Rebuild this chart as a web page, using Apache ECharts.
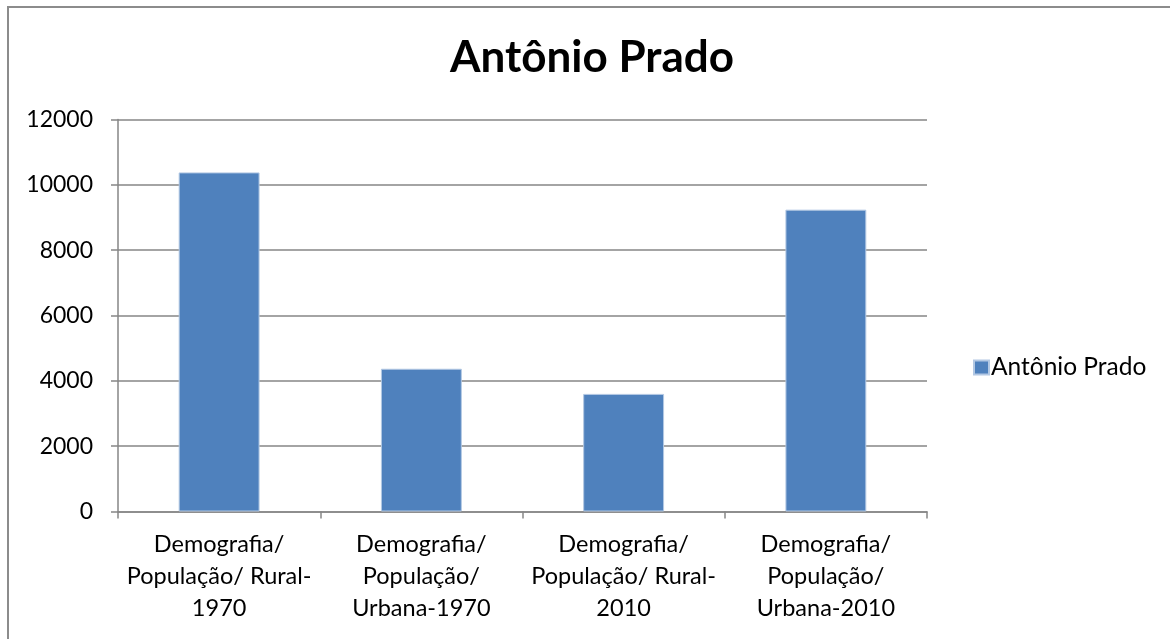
<!DOCTYPE html>
<html>
<head>
<meta charset="utf-8">
<script src="https://cdn.jsdelivr.net/npm/echarts@6/dist/echarts.min.js"></script>
<style>
  html, body { margin: 0; padding: 0; background: #fff; }
  #main { width: 1170px; height: 639px; }
</style>
</head>
<body>
<div id="main"></div>
<script>
// dados
var categorias = [
  'Demografia/\nPopulação/ Rural-\n1970',
  'Demografia/\nPopulação/\nUrbana-1970',
  'Demografia/\nPopulação/ Rural-\n2010',
  'Demografia/\nPopulação/\nUrbana-2010'
];
var valores = [10380, 4370, 3600, 9240];
var nomeSerie = 'Antônio Prado';
var tituloTexto = 'Antônio Prado';

var fonte = 'Lato, "Noto Sans", sans-serif';
var cinza = '#868686';

var chart = echarts.init(document.getElementById('main'));
var option = {
  backgroundColor: '#fff',
  animation: false,
  textStyle: { fontFamily: fonte },
  graphic: [{
    type: 'rect',
    shape: { x: 8, y: 7, width: 1200, height: 700 },
    style: { fill: 'none', stroke: '#8c8c8c', lineWidth: 2 },
    silent: true
  }],
  title: {
    text: tituloTexto,
    left: 587,
    textAlign: 'center',
    top: 31,
    textStyle: { fontFamily: fonte, fontSize: 44, fontWeight: 'bold', color: '#000' }
  },
  legend: {
    data: [nomeSerie],
    orient: 'vertical',
    left: 968,
    top: 350,
    itemWidth: 15,
    itemHeight: 14,
    itemGap: 6,
    icon: 'rect',
    textStyle: { fontFamily: fonte, fontSize: 24.5, color: '#000', padding: [0, 0, 0, -3] }
  },
  grid: { left: 118, right: 243, top: 119.5, bottom: 127.5, containLabel: false },
  xAxis: {
    type: 'category',
    data: categorias,
    axisLine: { lineStyle: { color: cinza, width: 1.5 } },
    axisTick: { show: true, alignWithLabel: false, length: 7, lineStyle: { color: cinza, width: 1.5 } },
    axisLabel: { fontFamily: fonte, color: '#000', fontSize: 23.5, lineHeight: 32, margin: 17, interval: 0, align: 'center' }
  },
  yAxis: {
    type: 'value',
    min: 0,
    max: 12000,
    interval: 2000,
    axisLine: { show: true, lineStyle: { color: cinza, width: 1.5 } },
    axisTick: { show: true, length: 7, lineStyle: { color: cinza, width: 1.5 } },
    axisLabel: { fontFamily: fonte, color: '#000', fontSize: 23, margin: 25, formatter: function (v) { return String(v); } },
    splitLine: { show: true, lineStyle: { color: cinza, width: 1.5 } }
  },
  series: [{
    name: nomeSerie,
    type: 'bar',
    data: valores,
    barWidth: '40%',
    itemStyle: { color: '#4F81BD', borderColor: '#b3c8e3', borderWidth: 1 }
  }]
};
chart.setOption(option);
</script>
</body>
</html>
